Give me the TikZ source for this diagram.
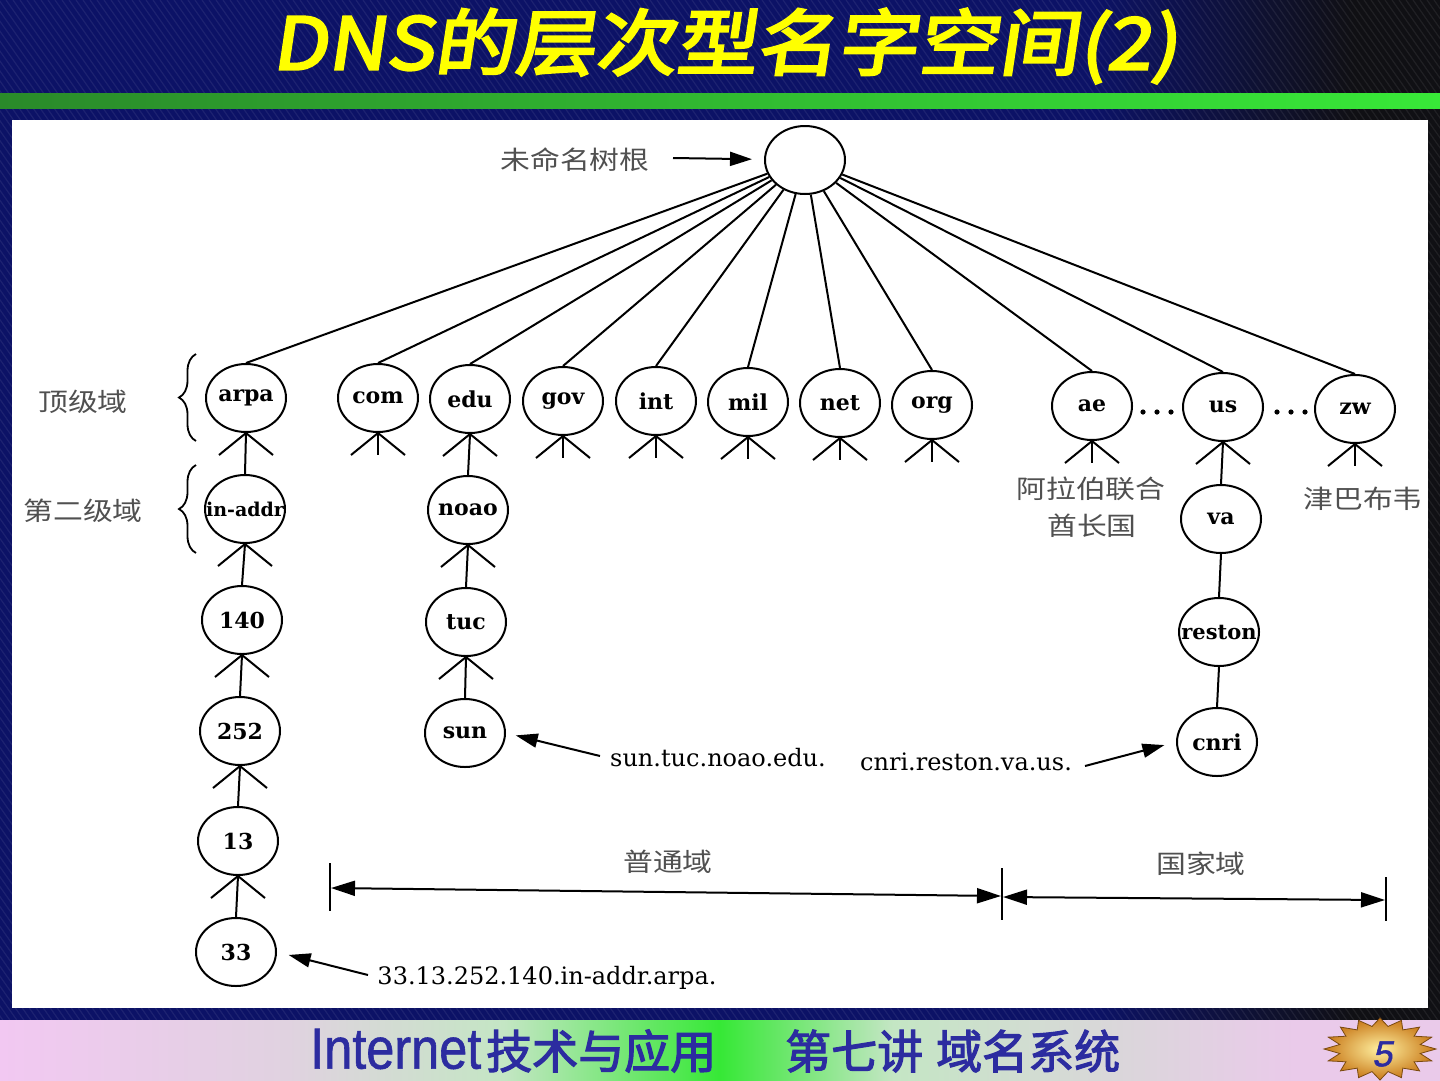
\documentclass[tikz,border=0pt]{standalone}
\usepackage{fontspec}
\usetikzlibrary{shapes.geometric,arrows.meta,decorations.pathreplacing,calc}
\setmainfont{DejaVu Serif}
\newfontfamily\cjk[FakeStretch=1.17]{Noto Sans CJK SC}
\newfontfamily\titlefont[FakeSlant=0.15,FakeBold=3.5,FakeStretch=1.12]{Noto Sans CJK SC}
\newfontfamily\footlat[FakeStretch=0.87,FakeBold=1]{Liberation Sans}
\newfontfamily\footcjk[FakeBold=2.5]{Noto Sans CJK SC}
\newfontfamily\badgefont[FakeSlant=0.2,FakeBold=1.5]{Liberation Sans}
\definecolor{bgnavy}{HTML}{0C1266}
\definecolor{bgdark}{HTML}{101014}
\definecolor{gleft}{HTML}{2A8A2A}
\definecolor{gright}{HTML}{38E838}
\definecolor{fpink}{HTML}{F2C8F2}
\definecolor{fgrayp}{HTML}{E0D2E0}
\definecolor{flgreen}{HTML}{C4E6C4}
\definecolor{fgreen}{HTML}{36E836}
\definecolor{fgrayr}{HTML}{D8D8D8}
\definecolor{fpinkr}{HTML}{EACAEA}
\definecolor{ttlyellow}{HTML}{FFFF00}
\definecolor{footblue}{HTML}{2C2CA0}
\definecolor{zhgray}{HTML}{505050}
\definecolor{starin}{HTML}{FFF0A0}
\definecolor{starout}{HTML}{C87818}
\definecolor{starline}{HTML}{7A4A10}
\pgfdeclarehorizontalshading{bgsh}{100bp}{color(0bp)=(bgnavy); color(25bp)=(bgnavy); color(63bp)=(bgnavy); color(72bp)=(bgdark); color(100bp)=(bgdark)}
\pgfdeclarehorizontalshading{footsh}{100bp}{color(0bp)=(fpink); color(25bp)=(fpink); color(35bp)=(fgrayp); color(42.5bp)=(flgreen); color(50bp)=(fgreen); color(56bp)=(flgreen); color(63bp)=(fgrayr); color(70bp)=(fpinkr); color(75bp)=(fpinkr); color(100bp)=(fpinkr)}
\newcommand\nlbl[1]{\makebox[0pt]{#1}}
\begin{document}
\begin{tikzpicture}[x=1pt,y=-1pt,
  ln/.style={line width=2pt,draw=black},
  nd/.style={ellipse,draw,line width=2pt,minimum width=80pt,minimum height=68pt,inner sep=0pt,font=\bfseries\fontsize{22}{24}\selectfont},
  zh/.style={font=\cjk\fontsize{25.5}{28}\selectfont,text=zhgray,inner sep=0pt},
  addr/.style={font=\fontsize{24}{26}\selectfont,inner sep=0pt},
  arr/.style={ln,-{Triangle[length=22pt,width=14pt]}},
  dimarr/.style={line width=2pt,{Triangle[length=24pt,width=15pt]}-{Triangle[length=24pt,width=15pt]}},
  stripe/.style={white,opacity=0.07,line width=1.2pt},
]
\useasboundingbox (0,0) rectangle (1440,1080);
% background
\shade[shading=bgsh] (0,0) rectangle (1440,1080);
\foreach \i in {-1100,-1093,...,1440}{\draw[stripe] (\i,0) -- ++(760,1080);}
\shade[left color=gleft,right color=gright] (0,93) rectangle (1440,108);
\fill[white] (12,120) rectangle (1428,1008);
\shade[shading=footsh] (0,1020) rectangle (1440,1080);
% title
\node[font=\titlefont\fontsize{72}{80}\selectfont,text=ttlyellow,inner sep=0pt] (title) at (725,46) {DNS的层次型名字空间(2)};
% footer
\node[font=\footlat\fontsize{58}{60}\selectfont,text=footblue,anchor=west,inner sep=0pt] (foot1) at (310,1049) {Internet};
\node[font=\footcjk\fontsize{46}{48}\selectfont,text=footblue,anchor=west,inner sep=0pt] (foot2) at (486,1051) {技术与应用};
\node[font=\footcjk\fontsize{46}{48}\selectfont,text=footblue,anchor=west,inner sep=0pt] (foot3) at (785,1051) {第七讲};
\node[font=\footcjk\fontsize{46}{48}\selectfont,text=footblue,anchor=west,inner sep=0pt] (foot4) at (936,1051) {域名系统};
\begin{scope}[shift={(1380,1049)}]
\shade[inner color=starin,outer color=starout,draw=starline,line width=0.8pt]
  (0:56 and 31) -- (11.25:41 and 23)
  \foreach \k in {1,...,15}{ -- ({\k*22.5}:56 and 31) -- ({\k*22.5+11.25}:41 and 23)} -- cycle;
\end{scope}
\node[font=\badgefont\fontsize{36}{38}\selectfont,text=footblue] (badge) at (1382,1054) {5};
% tree nodes
\node[nd] (root) at (805,160) {};
\node[nd] (arpa) at (246,398) {\nlbl{arpa}};
\node[nd] (com) at (378,398) {\nlbl{com}};
\node[nd] (edu) at (470,399) {\nlbl{edu}};
\node[nd] (gov) at (563,401) {\nlbl{gov}};
\node[nd] (int) at (656,401) {\nlbl{int}};
\node[nd] (mil) at (748,402) {\nlbl{mil}};
\node[nd] (net) at (840,403) {\nlbl{net}};
\node[nd] (org) at (932,405) {\nlbl{org}};
\node[nd] (ae) at (1092,406) {\nlbl{ae}};
\node[nd] (us) at (1223,407) {\nlbl{us}};
\node[nd] (zw) at (1355,409) {\nlbl{zw}};
\node[nd,font=\bfseries\fontsize{19}{21}\selectfont] (inaddr) at (245,509) {\nlbl{in-addr}};
\node[nd] (n140) at (242,620) {\nlbl{140}};
\node[nd] (n252) at (240,731) {\nlbl{252}};
\node[nd] (n13) at (238,841) {\nlbl{13}};
\node[nd] (n33) at (236,952) {\nlbl{33}};
\node[nd] (noao) at (468,510) {\nlbl{noao}};
\node[nd] (tuc) at (466,622) {\nlbl{tuc}};
\node[nd] (sun) at (465,733) {\nlbl{sun}};
\node[nd] (va) at (1221,519) {\nlbl{va}};
\node[nd,font=\bfseries\fontsize{21}{23}\selectfont] (reston) at (1219,632) {\nlbl{reston}};
\node[nd] (cnri) at (1217,742) {\nlbl{cnri}};
% spokes
\foreach \n in {arpa,com,edu,gov,int,mil,net,org,ae,us,zw}{\draw[ln] (root) -- (\n.north);}
% feet (two legs) on every node that has them
\foreach \n in {arpa,com,edu,gov,int,mil,net,org,ae,us,zw,inaddr,n140,n252,n13,noao,tuc}{
  \draw[ln] (\n.south) -- ++(-27,22) (\n.south) -- ++(27,22);}
% short stems on leaves
\foreach \n in {com,gov,int,mil,net,org,ae,zw}{\draw[ln] (\n.south) -- ++(0,22);}
% chains
\draw[ln] (arpa.south) -- (inaddr.north);
\draw[ln] (inaddr.south) -- (n140.north);
\draw[ln] (n140.south) -- (n252.north);
\draw[ln] (n252.south) -- (n13.north);
\draw[ln] (n13.south) -- (n33.north);
\draw[ln] (edu.south) -- (noao.north);
\draw[ln] (noao.south) -- (tuc.north);
\draw[ln] (tuc.south) -- (sun.north);
\draw[ln] (us.south) -- (va.north);
\draw[ln] (va.south) -- (reston.north);
\draw[ln] (reston.south) -- (cnri.north);
% dots
\foreach \x in {1143,1157,1171,1277,1291,1305}{\fill (\x,412) circle (2.6);}
% root label
\node[zh] (rootlbl) at (575,160) {未命名树根};
\coordinate (rootarr) at (673,158);
\draw[arr,shorten >=12pt] (rootarr) -- (root);
% left level labels and braces
\node[zh] (lvl1) at (83,402) {顶级域};
\node[zh] (lvl2) at (83,511) {第二级域};
\coordinate (br1b) at (196,441); \coordinate (br1t) at (196,354);
\coordinate (br2b) at (196,553); \coordinate (br2t) at (196,465);
\draw[line width=1.8pt,decorate,decoration={brace,amplitude=17pt}] (br1b) -- (br1t);
\draw[line width=1.8pt,decorate,decoration={brace,amplitude=17pt}] (br2b) -- (br2t);
% country labels
\node[zh] (aelbl1) at (1091,489) {阿拉伯联合};
\node[zh] (aelbl2) at (1092,526) {酋长国};
\node[zh] (zwlbl) at (1363,499) {津巴布韦};
% address labels
\node[addr] (sunaddr) at (718,758) {sun.tuc.noao.edu.};
\coordinate (suna) at (600,756);
\draw[arr,shorten >=10pt] (suna) -- (sun.east);
\node[addr] (cnriaddr) at (966,762) {cnri.reston.va.us.};
\coordinate (cnria) at (1085,766);
\draw[arr,shorten >=12pt] (cnria) -- (cnri.west);
\node[addr] (addr33) at (547,978) {33.13.252.140.in-addr.arpa.};
\coordinate (a33) at (368,975);
\draw[arr,shorten >=12pt] (a33) -- (n33.east);
% domain dimension lines
\node[zh] (gen) at (668,862) {普通域};
\node[zh] (ctry) at (1201,864) {国家域};
\coordinate (t1u) at (330,863); \coordinate (t1d) at (330,911);
\coordinate (t2u) at (1002,868); \coordinate (t2d) at (1002,920);
\coordinate (t3u) at (1386,877); \coordinate (t3d) at (1386,921);
\draw[line width=1.8pt] (t1u) -- (t1d);
\draw[line width=1.8pt] (t2u) -- (t2d);
\draw[line width=1.8pt] (t3u) -- (t3d);
\coordinate (d1a) at (331,888); \coordinate (d1b) at (1001,896);
\coordinate (d2a) at (1003,897); \coordinate (d2b) at (1385,900);
\draw[dimarr] (d1a) -- (d1b);
\draw[dimarr] (d2a) -- (d2b);
\end{tikzpicture}
\end{document}
